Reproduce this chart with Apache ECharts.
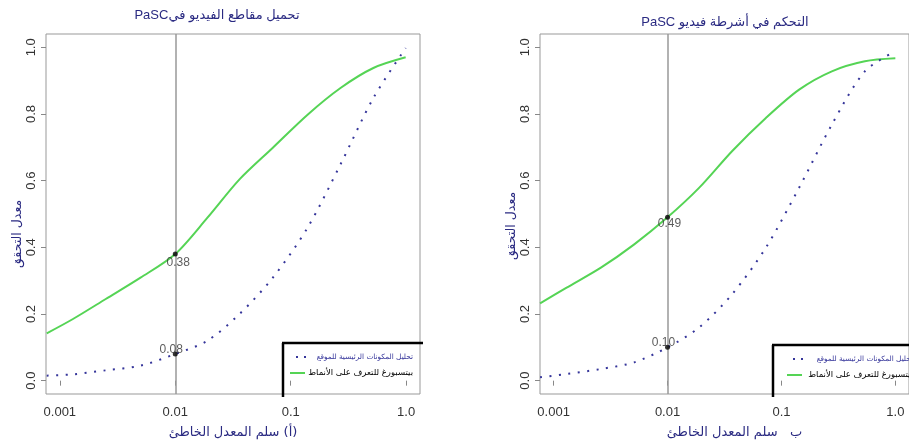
<!DOCTYPE html>
<html><head><meta charset="utf-8">
<script src="https://cdn.jsdelivr.net/npm/echarts@6/dist/echarts.min.js"></script>
<style>html,body{margin:0;padding:0;background:#fff}#c{width:909px;height:446px}</style>
</head><body><div id="c"></div>
<script>
// ---- data ----
const xTicks = [0.001, 0.01, 0.1, 1];
const xTickLabels = ['0.001', '0.01', '0.1', '1.0'];
const yTicks = [0, 0.2, 0.4, 0.6, 0.8, 1.0];

const farLeft  = [0.00077, 0.0013, 0.0025, 0.005, 0.01, 0.019, 0.036, 0.07, 0.14, 0.27, 0.52, 0.99];
const greenLeft = [0.142, 0.185, 0.245, 0.309, 0.38, 0.489, 0.604, 0.699, 0.798, 0.878, 0.938, 0.970];
const blueLeft  = [0.015, 0.019, 0.031, 0.045, 0.08, 0.12, 0.20, 0.309, 0.459, 0.649, 0.848, 0.998];

const farRight  = [0.00076, 0.0013, 0.0026, 0.0051, 0.01, 0.019, 0.037, 0.073, 0.143, 0.277, 0.54, 1.0];
const greenRight = [0.232, 0.279, 0.339, 0.409, 0.49, 0.579, 0.689, 0.788, 0.873, 0.928, 0.958, 0.967];
const blueRight  = [0.010, 0.020, 0.035, 0.055, 0.10, 0.16, 0.26, 0.399, 0.579, 0.768, 0.928, 0.988];

const markLeft  = [[0.01, 0.38], [0.01, 0.08]];
const markRight = [[0.01, 0.49], [0.01, 0.10]];

const RLE = s => '\u202B' + s + '\u202C';
const titleLeft  = RLE('تحميل مقاطع الفيديو فيPaSC');
const titleRight = RLE('التحكم في أشرطة فيديو PaSC');
const xNameLeft  = RLE('(أ) سلم المعدل الخاطئ');
const xNameRight = RLE('ب   سلم المعدل الخاطئ');
const yName      = RLE('معدل التحقق');
const blueName   = RLE('تحليل المكونات الرئيسية للموقع');
const greenName  = RLE('بيتسبورغ للتعرف على الأنماط');

// ---- styles ----
const NAVY = '#2a2a82';
const GREEN = '#55d455';
const BLUE = '#35359a';
const FONT = "'Liberation Sans', 'DejaVu Sans', sans-serif";
const AFONT = "'DejaVu Sans', sans-serif";

const chart = echarts.init(document.getElementById('c'));

function xAxis(i, name, pad) {
  return {
    type: 'log', logBase: 10, gridIndex: i, min: 0.000759, max: 1.318,
    axisLine: { show: false },
    axisTick: { show: true, inside: false, length: 5, lineStyle: { color: '#888' }, customValues: xTicks },
    axisLabel: { customValues: xTicks, fontSize: 13, color: '#333', margin: 12, fontFamily: FONT,
      formatter: v => xTickLabels[Math.round(Math.log10(v)) + 3] },
    splitLine: { show: false }, minorTick: { show: false },
    name: name, nameLocation: 'middle', nameGap: 32,
    nameTextStyle: { color: NAVY, fontSize: 13, fontFamily: AFONT, padding: pad }
  };
}
function yAxis(i, shift) {
  return {
    type: 'value', gridIndex: i, min: -0.04, max: 1.04,
    axisLine: { show: false },
    axisTick: { show: true, inside: false, length: 5, lineStyle: { color: '#888' }, customValues: yTicks },
    axisLabel: { customValues: yTicks, rotate: 90, fontSize: 13, color: '#333', margin: 8, fontFamily: FONT,
      formatter: v => v.toFixed(1) },
    splitLine: { show: false },
    name: yName, nameLocation: 'middle', nameGap: 19, nameRotate: 90,
    nameTextStyle: { color: NAVY, fontSize: 12.5, fontFamily: AFONT, padding: [0, shift, 0, 0] }
  };
}
function seriesFor(i, far, green, blue, marks, labelCfg) {
  return [
    { type: 'line', name: greenName, xAxisIndex: i, yAxisIndex: i, smooth: 0.3, symbol: 'none',
      data: far.map((x, k) => [x, green[k]]),
      lineStyle: { color: GREEN, width: 2 }, itemStyle: { color: GREEN },
      markLine: { silent: true, symbol: 'none', label: { show: false },
        lineStyle: { color: '#999', width: 1.5, type: 'solid' }, data: [{ xAxis: 0.01 }] } },
    { type: 'line', name: blueName, xAxisIndex: i, yAxisIndex: i, smooth: 0.3, symbol: 'none',
      data: far.map((x, k) => [x, blue[k]]),
      lineStyle: { color: BLUE, width: 2, type: [2, 7.5] }, itemStyle: { color: BLUE } },
    { type: 'scatter', xAxisIndex: i, yAxisIndex: i, symbolSize: 5, itemStyle: { color: '#000' }, z: 5,
      data: marks.map((m, k) => ({ value: m, label: labelCfg[k] })),
      label: { show: true, fontSize: 12, color: '#333', fontFamily: FONT, formatter: p => p.value[1].toFixed(2) } }
  ];
}
// legend drawn as graphic: box (top/left edges), samples and right-aligned labels
function legendGraphic(bx, by, sampleRight, textRight) {
  return [
    { type: 'line', z: 100, shape: { x1: bx - 1, y1: by, x2: bx + 140, y2: by }, style: { stroke: '#000', lineWidth: 2.5 } },
    { type: 'line', z: 100, shape: { x1: bx, y1: by, x2: bx, y2: 397 }, style: { stroke: '#000', lineWidth: 2.5 } },
    { type: 'line', z: 100, shape: { x1: sampleRight - 9, y1: by + 14, x2: sampleRight + 1, y2: by + 14 },
      style: { stroke: BLUE, lineWidth: 2, lineDash: [2, 6] } },
    { type: 'line', z: 100, shape: { x1: sampleRight - 15, y1: by + 30, x2: sampleRight, y2: by + 30 },
      style: { stroke: GREEN, lineWidth: 2 } },
    { type: 'text', z: 100, x: textRight, y: by + 14, style: { text: blueName, align: 'right', verticalAlign: 'middle',
      fill: BLUE, fontSize: 7.3, fontFamily: AFONT } },
    { type: 'text', z: 100, x: textRight, y: by + 30, style: { text: greenName, align: 'right', verticalAlign: 'middle',
      fill: '#000', fontSize: 8.5, fontFamily: AFONT } }
  ];
}

const option = {
  backgroundColor: '#fff',
  animation: false,
  grid: [
    { left: 46, right: 489, top: 34, bottom: 52, show: true, borderColor: '#999', borderWidth: 1 },
    { left: 540, right: -4, top: 34, bottom: 52, show: true, borderColor: '#999', borderWidth: 1 }
  ],
  xAxis: [xAxis(0, xNameLeft, [0, 0, 0, 0]), xAxis(1, xNameRight, [0, 0, 0, 20])],
  yAxis: [yAxis(0, 40), yAxis(1, 24)],
  series: [
    ...seriesFor(0, farLeft, greenLeft, blueLeft, markLeft, [
      { position: 'bottom', distance: 0, offset: [3, 0] },
      { position: 'top', distance: 0, offset: [-4, 4] }]),
    ...seriesFor(1, farRight, greenRight, blueRight, markRight, [
      { position: 'bottom', distance: 0, offset: [2, -2] },
      { position: 'top', distance: 0, offset: [-4, 4] }])
  ],
  graphic: [
    { type: 'text', x: 217, y: 15, style: { text: titleLeft, align: 'center', verticalAlign: 'middle', fill: NAVY, fontSize: 13, fontFamily: FONT } },
    { type: 'text', x: 725, y: 22, style: { text: titleRight, align: 'center', verticalAlign: 'middle', fill: NAVY, fontSize: 13, fontFamily: FONT } },
    ...legendGraphic(283, 343, 305, 413),
    ...legendGraphic(773, 345, 802, 913)
  ]
};
chart.setOption(option);
</script></body></html>
